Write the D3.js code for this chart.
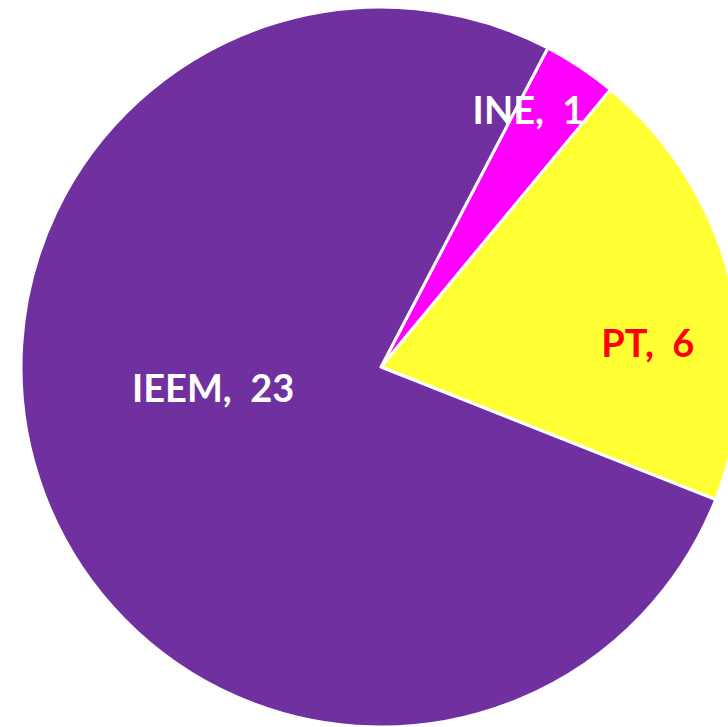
<!DOCTYPE html>
<html><head><meta charset="utf-8">
<script src="https://cdn.jsdelivr.net/npm/d3@7/dist/d3.min.js"></script>
<style>html,body{margin:0;padding:0;background:#fff;overflow:hidden}</style>
</head><body>
<svg id="chart" width="728" height="727"></svg>
<script>
const categories = ["INE", "PT", "IEEM"];
const values = [1, 6, 23];
const colors = ["#FF00FF", "#FFFF33", "#7030A0"];
const labelColors = ["#FFFFFF", "#FF0000", "#FFFFFF"];

const W = 728, H = 727;
const cx = 381, cy = 367, R = 360;
const startDeg = 27.6;
// label placement (angle degrees clockwise from top, radius fraction)
const labelPlace = {INE: [29.9, 0.822], PT: [84.9, 0.744], IEEM: [262.9, 0.47]};

const svg = d3.select("#chart");
const g = svg.append("g").attr("transform", `translate(${cx},${cy})`);
const data = categories.map((c, i) => ({name: c, value: values[i], color: colors[i], lc: labelColors[i]}));
const pie = d3.pie().value(d => d.value).sort(null)
  .startAngle(startDeg * Math.PI / 180).endAngle((startDeg + 360) * Math.PI / 180);
const arc = d3.arc().innerRadius(0).outerRadius(R);
const arcs = pie(data);

g.selectAll("path").data(arcs).join("path")
  .attr("d", arc).attr("fill", d => d.data.color)
  .attr("stroke", "#fff").attr("stroke-width", 3).attr("stroke-linejoin", "round");

const fs = 38;
g.selectAll("text").data(arcs).join("text")
  .attr("x", d => { const p = labelPlace[d.data.name]; return Math.sin(p[0]*Math.PI/180) * p[1] * R; })
  .attr("y", d => { const p = labelPlace[d.data.name]; return -Math.cos(p[0]*Math.PI/180) * p[1] * R + fs*0.36; })
  .attr("text-anchor", "middle")
  .attr("fill", d => d.data.lc)
  .style("font-family", "Lato, 'Open Sans', sans-serif")
  .style("font-weight", "bold")
  .style("font-size", fs + "px")
  .style("white-space", "pre")
  .text(d => d.data.name + ",  " + d.data.value);
</script>
</body></html>
